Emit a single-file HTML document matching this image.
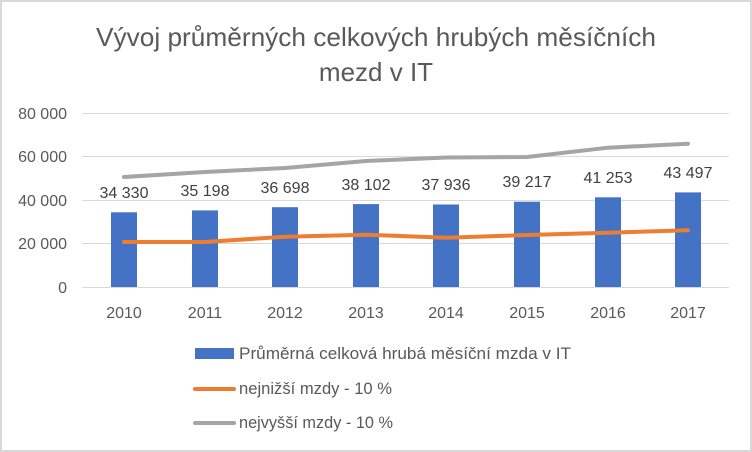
<!DOCTYPE html>
<html><head><meta charset="utf-8"><style>
html,body{margin:0;padding:0;background:#fff}
svg{display:block;font-family:"Liberation Sans",sans-serif}
</style></head><body>
<svg width="752" height="452" viewBox="0 0 752 452">
<rect x="0" y="0" width="752" height="452" fill="#fff"/>
<rect x="1" y="1" width="750" height="450" fill="none" stroke="#d9d9d9" stroke-width="2"/>
<text x="376" y="46" font-size="26" fill="#595959" text-anchor="middle" textLength="560" lengthAdjust="spacingAndGlyphs">Vývoj průměrných celkových hrubých měsíčních</text>
<text x="376" y="81" font-size="26" fill="#595959" text-anchor="middle">mezd v IT</text>
<g stroke="#d9d9d9" stroke-width="1">
<line x1="82" y1="113.5" x2="729" y2="113.5"/>
<line x1="82" y1="156.5" x2="729" y2="156.5"/>
<line x1="82" y1="200.5" x2="729" y2="200.5"/>
<line x1="82" y1="243.5" x2="729" y2="243.5"/>
<line x1="82" y1="287.5" x2="729" y2="287.5"/>
</g>
<g font-size="16" fill="#595959" text-anchor="end">
<text x="67" y="119">80 000</text>
<text x="67" y="162">60 000</text>
<text x="67" y="206">40 000</text>
<text x="67" y="249">20 000</text>
<text x="67" y="293">0</text>
</g>
<g fill="#4472c4">
<rect x="111" y="212.3" width="26" height="74.7"/>
<rect x="192" y="210.4" width="26" height="76.6"/>
<rect x="272" y="207.2" width="26" height="79.8"/>
<rect x="353" y="204.1" width="26" height="82.9"/>
<rect x="433" y="204.5" width="26" height="82.5"/>
<rect x="514" y="201.7" width="26" height="85.3"/>
<rect x="595" y="197.3" width="26" height="89.7"/>
<rect x="675" y="192.4" width="26" height="94.6"/>
</g>
<g font-size="16" fill="#404040" text-anchor="middle">
<text x="124" y="198">34 330</text>
<text x="205" y="196">35 198</text>
<text x="285" y="193">36 698</text>
<text x="366" y="190">38 102</text>
<text x="446" y="190">37 936</text>
<text x="527" y="187">39 217</text>
<text x="608" y="183">41 253</text>
<text x="688" y="178">43 497</text>
</g>
<polyline fill="none" stroke="#a5a5a5" stroke-width="4" stroke-linecap="round" stroke-linejoin="round" points="124,177 205,172 285,168 366,161 446,157.5 527,157 608,147.7 688,143.7"/>
<polyline fill="none" stroke="#ed7d31" stroke-width="4" stroke-linecap="round" stroke-linejoin="round" points="124,242 205,242 285,236.7 366,234.7 446,237.7 527,235 608,232.7 688,230.3"/>
<g font-size="16" fill="#595959" text-anchor="middle">
<text x="124" y="318">2010</text>
<text x="205" y="318">2011</text>
<text x="285" y="318">2012</text>
<text x="366" y="318">2013</text>
<text x="446" y="318">2014</text>
<text x="527" y="318">2015</text>
<text x="608" y="318">2016</text>
<text x="688" y="318">2017</text>
</g>
<rect x="195" y="348" width="39" height="11" fill="#4472c4"/>
<line x1="195" y1="389" x2="234" y2="389" stroke="#ed7d31" stroke-width="4" stroke-linecap="round"/>
<line x1="195" y1="423" x2="234" y2="423" stroke="#a5a5a5" stroke-width="4" stroke-linecap="round"/>
<g font-size="16.5" fill="#595959">
<text x="239" y="359" textLength="332" lengthAdjust="spacingAndGlyphs">Průměrná celková hrubá měsíční mzda v IT</text>
<text x="239" y="394" textLength="153" lengthAdjust="spacingAndGlyphs">nejnižší mzdy - 10 %</text>
<text x="239" y="428" textLength="154" lengthAdjust="spacingAndGlyphs">nejvyšší mzdy - 10 %</text>
</g>
</svg>
</body></html>
